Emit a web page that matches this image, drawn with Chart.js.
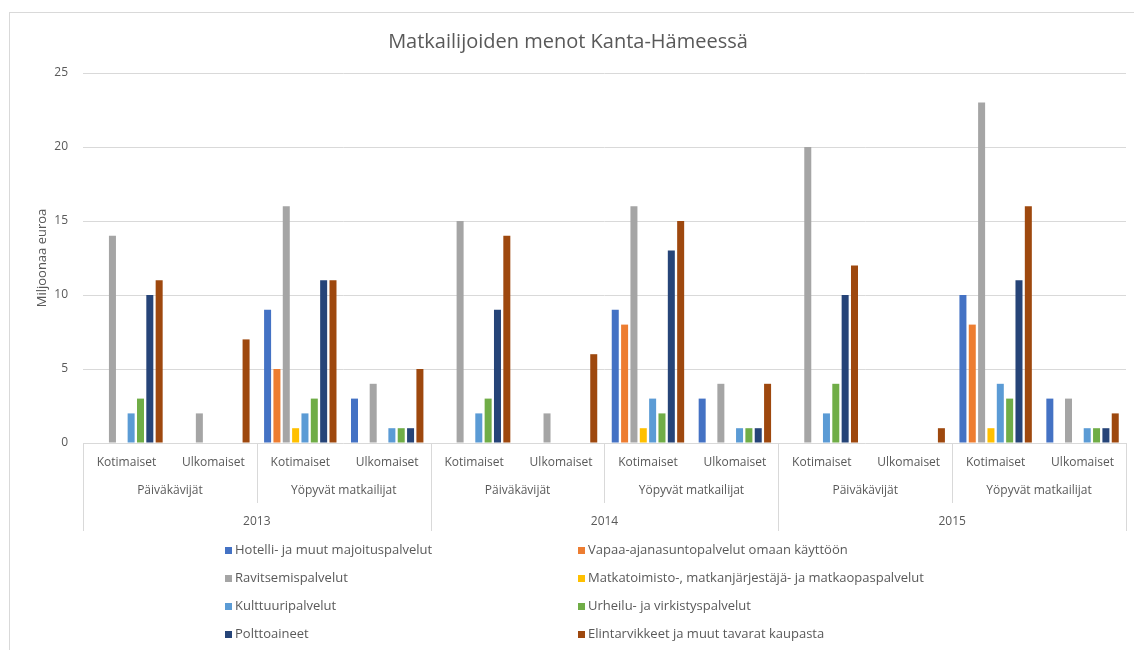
<!DOCTYPE html>
<html>
<head>
<meta charset="utf-8">
<script src="https://cdn.jsdelivr.net/npm/chart.js@4"></script>
<style>
  html, body { margin: 0; padding: 0; background: #fff; }
  #wrap { position: relative; width: 1134px; height: 650px; overflow: hidden; }
  #frame { position: absolute; left: 9px; top: 12px; width: 1200px; height: 700px; border-left: 1px solid #d9d9d9; border-top: 1px solid #d9d9d9; }
  canvas { position: absolute; left: 0; top: 0; }
  .lg { position: absolute; font-family: "Open Sans", sans-serif; font-size: 13px; color: #595959; white-space: nowrap; line-height: 15px; }
  .lg span.sw { display: inline-block; width: 7px; height: 7px; margin-right: 3px; vertical-align: 0px; }
</style>
</head>
<body>
<div id="wrap">
  <div id="frame"></div>
  <canvas id="c" width="1134" height="650"></canvas>
  <div id="legend"></div>
</div>
<script>
const years = ["2013", "2014", "2015"];
const visitorTypes = ["Päiväkävijät", "Yöpyvät matkailijat"];
const origins = ["Kotimaiset", "Ulkomaiset"];

const seriesNames = [
  "Hotelli- ja muut majoituspalvelut",
  "Vapaa-ajanasuntopalvelut omaan käyttöön",
  "Ravitsemispalvelut",
  "Matkatoimisto-, matkanjärjestäjä- ja matkaopaspalvelut",
  "Kulttuuripalvelut",
  "Urheilu- ja virkistyspalvelut",
  "Polttoaineet",
  "Elintarvikkeet ja muut tavarat kaupasta"
];
const seriesColors = ["#4472C4", "#ED7D31", "#A5A5A5", "#FFC000", "#5B9BD5", "#70AD47", "#264478", "#9E480E"];

const hotelli        = [0, 0, 9, 3,  0, 0, 9, 3,  0, 0, 10, 3];
const vapaa          = [0, 0, 5, 0,  0, 0, 8, 0,  0, 0, 8, 0];
const ravitsemis     = [14, 2, 16, 4, 15, 2, 16, 4, 20, 0, 23, 3];
const matkatoimisto  = [0, 0, 1, 0,  0, 0, 1, 0,  0, 0, 1, 0];
const kulttuuri      = [2, 0, 2, 1,  2, 0, 3, 1,  2, 0, 4, 1];
const urheilu        = [3, 0, 3, 1,  3, 0, 2, 1,  4, 0, 3, 1];
const polttoaineet   = [10, 0, 11, 1, 9, 0, 13, 1, 10, 0, 11, 1];
const elintarvikkeet = [11, 7, 11, 5, 14, 6, 15, 4, 12, 1, 16, 2];

const seriesValues = [hotelli, vapaa, ravitsemis, matkatoimisto, kulttuuri, urheilu, polttoaineet, elintarvikkeet];

const yTicks = [0, 5, 10, 15, 20, 25];

// build category list from the levels
const cats = [];
years.forEach(y => visitorTypes.forEach(v => origins.forEach(o => cats.push({ y, v, o }))));
const labels = cats.map(c => c.y + " " + c.v + " " + c.o);

const FONT = "'Open Sans', sans-serif";
const TXT = "#595959";
const LINE = "#d9d9d9";

const multiLevelAxis = {
  id: "multiLevelAxis",
  afterDraw(chart) {
    const ctx = chart.ctx;
    const xs = chart.scales.x;
    const area = chart.chartArea;
    const n = cats.length;
    const w = (area.right - area.left) / n;
    const top = area.bottom;
    const row1 = top + 20, row2 = top + 48, row3 = top + 79;
    const innerSepBottom = top + 60, yearSepBottom = top + 88;
    ctx.save();
    ctx.strokeStyle = LINE;
    ctx.lineWidth = 1;
    const vline = (x, y2) => {
      const xx = Math.round(x) + 0.5;
      ctx.beginPath(); ctx.moveTo(xx, top); ctx.lineTo(xx, y2); ctx.stroke();
    };
    const perYear = visitorTypes.length * origins.length;
    for (let i = 0; i <= n; i++) {
      const x = i < n ? xs.getPixelForValue(i) - w / 2 : xs.getPixelForValue(n - 1) + w / 2;
      if (i % perYear === 0) vline(x, yearSepBottom);
      else if (i % origins.length === 0) vline(x, innerSepBottom);
    }
    ctx.fillStyle = TXT;
    ctx.textAlign = "center";
    ctx.textBaseline = "middle";
    ctx.font = "12px " + FONT;
    cats.forEach((c, i) => ctx.fillText(c.o, xs.getPixelForValue(i), row1));
    for (let g = 0; g < n / origins.length; g++) {
      const i0 = g * origins.length, i1 = i0 + origins.length - 1;
      const cx = (xs.getPixelForValue(i0) + xs.getPixelForValue(i1)) / 2;
      ctx.fillText(cats[i0].v, cx, row2);
    }
    for (let yi = 0; yi < years.length; yi++) {
      const i0 = yi * perYear, i1 = i0 + perYear - 1;
      const cx = (xs.getPixelForValue(i0) + xs.getPixelForValue(i1)) / 2;
      ctx.fillText(years[yi], cx, row3);
    }
    ctx.restore();
  }
};

const chart = new Chart(document.getElementById("c"), {
  type: "bar",
  data: {
    labels,
    datasets: seriesNames.map((name, k) => ({
      label: name,
      data: seriesValues[k],
      backgroundColor: seriesColors[k],
      borderWidth: 0,
      categoryPercentage: 0.86,
      barPercentage: 0.75
    }))
  },
  options: {
    responsive: false,
    animation: false,
    devicePixelRatio: 1,
    layout: { padding: { left: 10, right: 8, top: 10, bottom: 207 } },
    plugins: {
      legend: { display: false },
      tooltip: { enabled: false },
      title: {
        display: true,
        text: "Matkailijoiden menot Kanta-Hämeessä",
        color: TXT,
        font: { family: FONT, size: 20, weight: "normal" },
        padding: { top: 20, bottom: 19 }
      }
    },
    scales: {
      x: { display: false },
      y: {
        min: 0, max: 25,
        afterFit(scale) { scale.width = 73; },
        afterBuildTicks(scale) { scale.ticks = yTicks.map(v => ({ value: v })); },
        grid: { color: LINE, drawTicks: false },
        border: { display: false },
        ticks: { color: TXT, font: { family: FONT, size: 12 }, padding: 15 },
        title: {
          display: true,
          text: "Miljoonaa euroa",
          color: TXT,
          font: { family: FONT, size: 13 },
          padding: { top: 24, bottom: 0 }
        }
      }
    }
  },
  plugins: [multiLevelAxis]
});

// legend (two columns, row-major order)
const legend = document.getElementById("legend");
const colX = [225, 578];
const rowY = [542, 570, 598, 626];
seriesNames.forEach((name, k) => {
  const d = document.createElement("div");
  d.className = "lg";
  d.style.left = colX[k % 2] + "px";
  d.style.top = rowY[Math.floor(k / 2)] + "px";
  const sw = document.createElement("span");
  sw.className = "sw";
  sw.style.background = seriesColors[k];
  d.appendChild(sw);
  d.appendChild(document.createTextNode(name));
  legend.appendChild(d);
});
</script>
</body>
</html>
